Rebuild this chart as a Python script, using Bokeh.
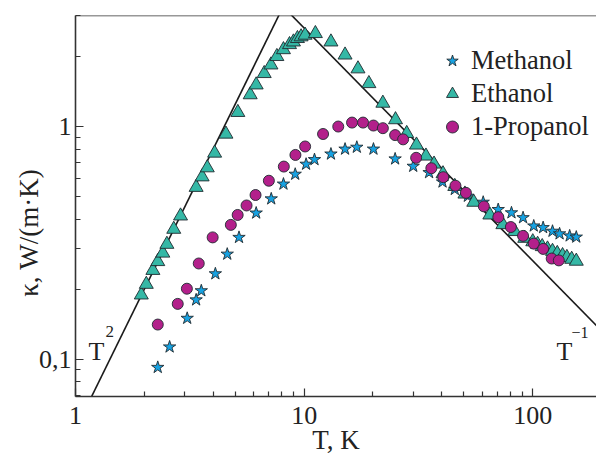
import math
from bokeh.plotting import figure
from bokeh.models import FixedTicker, Label, Span, Legend, LegendItem, CustomJSTickFormatter
from bokeh.embed import file_html
from bokeh.resources import INLINE

# ---- data ----
meth_T = [2.29, 2.58, 3.08, 3.37, 3.55, 4.09, 4.61, 5.19, 6.17, 7.18, 8.12, 9.14, 10.2, 11.1,
          13.1, 15.1, 17.0, 20.1, 25.0, 30.0, 35.2, 40.3, 45.6, 52.0, 60.7, 70.6, 80.7, 90.7,
          101, 111, 122, 131, 145, 155]
meth_k = [0.0923, 0.113, 0.150, 0.180, 0.197, 0.233, 0.283, 0.334, 0.425, 0.489, 0.566, 0.624,
          0.689, 0.721, 0.762, 0.800, 0.815, 0.800, 0.726, 0.675, 0.634, 0.578, 0.537, 0.502,
          0.473, 0.440, 0.426, 0.406, 0.374, 0.368, 0.355, 0.346, 0.339, 0.335]

eth_T = [1.94, 2.04, 2.18, 2.29, 2.41, 2.51, 2.69, 2.88, 3.37, 3.58, 3.77, 4.06, 4.55, 5.13,
         5.81, 6.17, 6.69, 7.16, 7.60, 8.12, 8.63, 8.98, 9.35, 9.7, 10.1, 11.2, 13.1, 15.1, 17.2,
         19.2, 22.1, 25.1, 28.1, 31.0, 34.1, 37.0, 40.5, 45.6, 50.5, 55.2, 64.9, 74.0, 83.4,
         92.2, 100, 105, 110, 116, 122, 128, 135, 141, 148, 155]
eth_k = [0.189, 0.210, 0.241, 0.263, 0.286, 0.312, 0.362, 0.413, 0.548, 0.608, 0.665, 0.769,
         0.928, 1.15, 1.37, 1.51, 1.69, 1.84, 2.00, 2.14, 2.25, 2.31, 2.39, 2.43, 2.47, 2.51,
         2.31, 2.03, 1.77, 1.53, 1.26, 1.07, 0.934, 0.833, 0.747, 0.69, 0.627, 0.553, 0.513,
         0.473, 0.417, 0.379, 0.354, 0.331, 0.320, 0.312, 0.305, 0.298, 0.291, 0.285, 0.279,
         0.274, 0.269, 0.264]

prop_T = [2.29, 2.80, 3.07, 3.46, 3.98, 4.78, 5.12, 5.60, 6.13, 7.01, 8.15, 9.16, 10.1, 12.1,
          14.1, 16.2, 18.1, 20.1, 22.1, 25.0, 27.1, 30.9, 36.0, 40.6, 45.9, 51.0, 61.1, 70.7,
          80.2, 90.7, 101, 111, 121, 130]
prop_k = [0.141, 0.173, 0.201, 0.258, 0.334, 0.378, 0.417, 0.458, 0.508, 0.585, 0.673, 0.755,
          0.821, 0.929, 1.00, 1.04, 1.04, 1.01, 0.984, 0.919, 0.881, 0.734, 0.662, 0.606,
          0.557, 0.519, 0.454, 0.408, 0.370, 0.339, 0.314, 0.298, 0.271, 0.266]

# power-law guide lines  k = A*T^2  and  k = B/T
A_T2 = 0.05
B_T1 = 26.5
t2_T = [1.0, 9.0]
t1_T = [8.0, 220.0]

x_major = [1, 10, 100]
x_minor = [2, 3, 4, 5, 6, 7, 8, 9, 20, 30, 40, 50, 60, 70, 80, 90, 200]
y_major = [0.1, 1]
y_minor = [0.07, 0.08, 0.09, 0.2, 0.3, 0.4, 0.5, 0.6, 0.7, 0.8, 0.9, 2, 3]

SERIF = "Liberation Serif"
AX = "#333333"
TXT = "#222222"

p = figure(width=596, height=457, x_axis_type="log", y_axis_type="log",
           x_range=(1, 190), y_range=(0.0692, 3.0),
           output_backend="svg", toolbar_location=None,
           min_border_left=75, min_border_right=0, min_border_top=15, min_border_bottom=54)
p.outline_line_color = None
p.xgrid.visible = False
p.ygrid.visible = False
p.background_fill_color = "white"

p.xaxis.ticker = FixedTicker(ticks=x_major, minor_ticks=x_minor)
p.yaxis.ticker = FixedTicker(ticks=y_major, minor_ticks=y_minor)
p.xaxis.formatter = CustomJSTickFormatter(code="return String(tick);")
p.yaxis.formatter = CustomJSTickFormatter(code="return String(tick).replace('.', ',');")

for ax in (p.xaxis[0], p.yaxis[0]):
    ax.axis_line_color = AX
    ax.axis_line_width = 1.6
    ax.major_tick_in = 8
    ax.major_tick_out = 0
    ax.minor_tick_in = 5
    ax.minor_tick_out = 0
    ax.major_tick_line_color = AX
    ax.minor_tick_line_color = AX
    ax.major_tick_line_width = 1.2
    ax.minor_tick_line_width = 1.2
    ax.major_label_text_font = SERIF
    ax.major_label_text_font_size = "26px"
    ax.major_label_text_color = TXT
    ax.axis_label_text_font = SERIF
    ax.axis_label_text_font_size = "27px"
    ax.axis_label_text_font_style = "normal"
    ax.axis_label_text_color = TXT
p.xaxis.major_label_standoff = 10
p.yaxis.major_label_standoff = 4

p.xaxis.axis_label = "T, K"
p.xaxis.axis_label_standoff = -2
# trailing em spaces push the rotated title down along the axis, as in the reference
p.yaxis.axis_label = "κ, W/(m·K)\u2003\u2003"
p.yaxis.axis_label_standoff = -8

# top border of the frame
p.add_layout(Span(location=3.0, dimension="width", line_color=AX, line_width=1.6))

# guide lines
p.line(t2_T, [A_T2 * t * t for t in t2_T], line_color="#1a1a1a", line_width=1.6)
p.line(t1_T, [B_T1 / t for t in t1_T], line_color="#1a1a1a", line_width=1.6)

r_meth = p.scatter(meth_T, meth_k, marker="star", size=13, fill_color="#17a2e2",
                   line_color="#1f2a30", line_width=0.9)
r_eth = p.scatter(eth_T, eth_k, marker="triangle", size=14, fill_color="#35b8a6",
                  line_color="#1f2a30", line_width=0.9)
r_prop = p.scatter(prop_T, prop_k, marker="circle", size=11, fill_color="#b3208b",
                   line_color="#1f2a30", line_width=0.9)

legend = Legend(items=[LegendItem(label="Methanol", renderers=[r_meth]),
                       LegendItem(label="Ethanol", renderers=[r_eth]),
                       LegendItem(label="1-Propanol", renderers=[r_prop])],
                location=(362, 253), glyph_width=30, glyph_height=33, label_height=33,
                spacing=0, padding=0, margin=0, label_standoff=4,
                border_line_color=None, background_fill_alpha=0,
                label_text_font=SERIF, label_text_font_size="26.5px",
                label_text_color=TXT)
p.add_layout(legend)

def lab(text, x, y, size="26px", **kw):
    p.add_layout(Label(text=text, x=x, y=y, x_units="screen", y_units="screen",
                       text_font=SERIF, text_font_size=size, text_color=TXT, **kw))

# power-law annotations
lab("T", 13, 45, text_baseline="alphabetic")
lab("2", 30, 65, size="17px", text_baseline="alphabetic")
lab("T", 481, 45, text_baseline="alphabetic")
lab("\u22121", 496, 64, size="16px", text_baseline="alphabetic")

open("out.html", "w").write(file_html(p, INLINE))
